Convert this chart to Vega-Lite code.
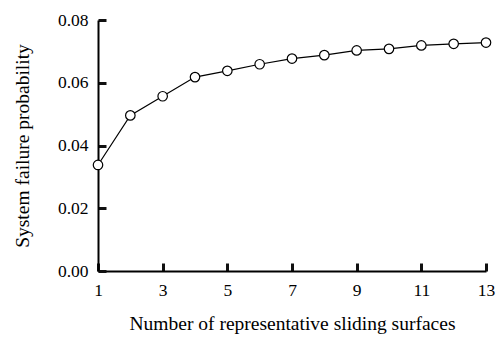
{
  "$schema": "https://vega.github.io/schema/vega-lite/v6.json",
  "width": 388,
  "height": 251,
  "autosize": "none",
  "padding": {"left": 98, "top": 20, "right": 16, "bottom": 67},
  "background": "white",
  "config": {
    "view": {"stroke": null},
    "font": "Liberation Serif",
    "axis": {
      "grid": false,
      "labelFont": "Liberation Serif",
      "titleFont": "Liberation Serif",
      "labelFontSize": 17.5,
      "titleFontSize": 19.5,
      "labelColor": "black",
      "titleColor": "black",
      "titleFontWeight": "normal"
    }
  },
  "data": {
    "values": [
      {"n": 1, "p": 0.0338},
      {"n": 2, "p": 0.0496},
      {"n": 3, "p": 0.0557},
      {"n": 4, "p": 0.0618},
      {"n": 5, "p": 0.0638},
      {"n": 6, "p": 0.0659},
      {"n": 7, "p": 0.0677},
      {"n": 8, "p": 0.0688},
      {"n": 9, "p": 0.0703},
      {"n": 10, "p": 0.0708},
      {"n": 11, "p": 0.0719},
      {"n": 12, "p": 0.0724},
      {"n": 13, "p": 0.0728}
    ]
  },
  "encoding": {
    "x": {
      "field": "n",
      "type": "quantitative",
      "scale": {"domain": [1, 13], "nice": false, "zero": false},
      "axis": {
        "title": "Number of representative sliding surfaces",
        "values": [1, 3, 5, 7, 9, 11, 13],
        "format": "d",
        "domainColor": "#000000",
        "domainWidth": 2,
        "ticks": true,
        "tickColor": "#111111",
        "tickOpacity": 1,
        "tickWidth": 3,
        "tickSize": -8,
        "labelPadding": 18,
        "titlePadding": 16,
        "labelFlush": false
      }
    },
    "y": {
      "field": "p",
      "type": "quantitative",
      "scale": {"domain": [0, 0.08], "nice": false},
      "axis": {
        "title": "System failure probability",
        "values": [0, 0.02, 0.04, 0.06, 0.08],
        "format": ".2f",
        "domainColor": "#000000",
        "domainWidth": 2,
        "ticks": true,
        "tickColor": "#111111",
        "tickOpacity": 1,
        "tickWidth": 3,
        "tickSize": -8,
        "labelPadding": 18,
        "titlePadding": 25,
        "labelFlush": false
      }
    }
  },
  "layer": [
    {"mark": {"type": "line", "color": "black", "strokeWidth": 1.2}},
    {"mark": {"type": "point", "shape": "circle", "filled": false, "fill": "white", "fillOpacity": 1, "stroke": "black", "strokeWidth": 1.2, "size": 90, "opacity": 1}}
  ]
}
